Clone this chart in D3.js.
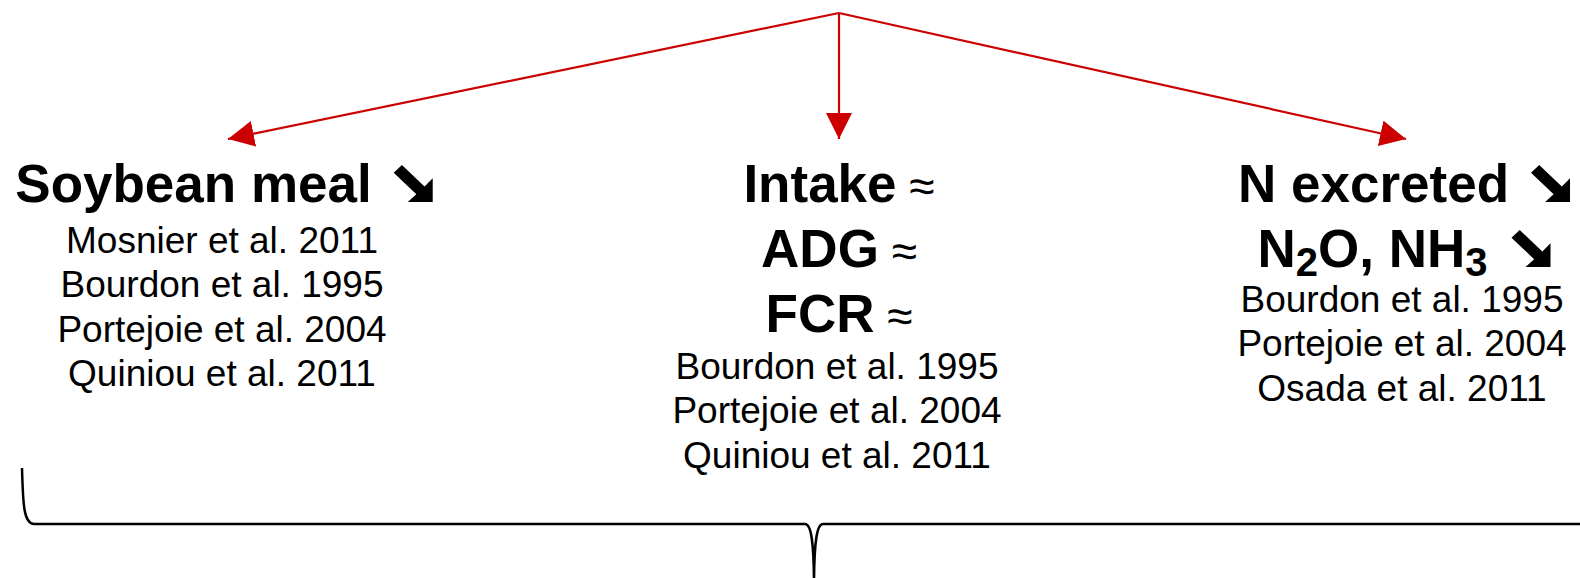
<!DOCTYPE html>
<html>
<head>
<meta charset="utf-8">
<script src="https://cdn.jsdelivr.net/npm/d3@7"></script>
<style>
  body { margin: 0; background: #fff; }
  svg { display: block; }
  .head { font-family: "Liberation Sans", Arial, sans-serif; font-weight: bold; font-size: 53px; fill: #000; }
  .ref { font-family: "Liberation Sans", Arial, sans-serif; font-size: 37px; fill: #000; }
  .sym-same { font-family: "Liberation Sans", Arial, sans-serif; font-weight: normal; font-size: 46px; }
</style>
</head>
<body>
<script>

// columns of the diagram
const columnIds = ['soy', 'perf', 'nitrogen']

// bold headings: each is a list of [text, isSubscript] pieces plus a trend
const soyHeads = [
  { parts: [['Soybean meal', false]], trend: 'down' }
]
const perfHeads = [
  { parts: [['Intake', false]], trend: 'same' },
  { parts: [['ADG', false]], trend: 'same' },
  { parts: [['FCR', false]], trend: 'same' }
]
const nHeads = [
  { parts: [['N excreted', false]], trend: 'down' },
  { parts: [['N', false], ['2', true], ['O, NH', false], ['3', true]], trend: 'down' }
]

// references under each heading
const soyRefs = ['Mosnier et al. 2011', 'Bourdon et al. 1995', 'Portejoie et al. 2004', 'Quiniou et al. 2011']
const perfRefs = ['Bourdon et al. 1995', 'Portejoie et al. 2004', 'Quiniou et al. 2011']
const nRefs = ['Bourdon et al. 1995', 'Portejoie et al. 2004', 'Osada et al. 2011']

const w = 1580
const h = 578

const headTop = 202
const headStep = 65
const refStep = 44.3
const redColor = '#cc0000'

// heavy south-east arrow glyph, drawn in a unit box
const symW = 39
const symH = 37
const symGap = 22
const downArrow = [[0, 0.21], [0.21, 0], [0.79, 0.58], [1, 0.36], [1, 1], [0.36, 1], [0.58, 0.79]]

const colX = d3.scaleOrdinal()
  .domain(columnIds)
  .range([224, 839, 1404])

const columns = [
  { id: 'soy', heads: soyHeads, refs: soyRefs, refTop: 253, refShift: -2 },
  { id: 'perf', heads: perfHeads, refs: perfRefs, refTop: 379, refShift: -2 },
  { id: 'nitrogen', heads: nHeads, refs: nRefs, refTop: 312, refShift: -2 }
]

const svg = d3.select('body')
  .append('svg')
  .attr('width', w)
  .attr('height', h)

const defs = svg.append('defs')
defs.append('marker')
  .attr('id', 'head')
  .attr('viewBox', '0 0 26 26')
  .attr('refX', 26)
  .attr('refY', 13)
  .attr('markerWidth', 26)
  .attr('markerHeight', 26)
  .attr('markerUnits', 'userSpaceOnUse')
  .attr('orient', 'auto')
  .append('path')
  .attr('d', 'M0,0 L26,13 L0,26 Z')
  .attr('fill', redColor)

// red arrows from the apex down to each column
const apex = [839, 13]
const arrowTipY = 139

svg.selectAll('.arrow')
  .data(columnIds)
  .enter()
  .append('line')
  .attr('class', 'arrow')
  .attr('x1', apex[0])
  .attr('y1', apex[1])
  .attr('x2', (d) => colX(d) + (d === 'soy' ? 4 : d === 'nitrogen' ? 2 : 0))
  .attr('y2', arrowTipY)
  .attr('stroke', redColor)
  .attr('stroke-width', 2.2)
  .attr('marker-end', 'url(#head)')

const sx = d3.scaleLinear().domain([0, 1]).range([0, symW])
const sy = d3.scaleLinear().domain([0, 1]).range([-symH, 0])
const arrowLine = d3.line().x((p) => sx(p[0])).y((p) => sy(p[1]))

// column text
const col = svg.selectAll('.col')
  .data(columns)
  .enter()
  .append('g')
  .attr('class', 'col')
  .attr('transform', (d) => `translate(${colX(d.id)},0)`)

col.each(function(c) {
  const g = d3.select(this)

  c.heads.forEach((d, i) => {
    const y = headTop + i * headStep
    const t = g.append('text')
      .attr('class', 'head')
      .attr('y', y)
    let shifted = false
    d.parts.forEach(([txt, sub]) => {
      const span = t.append('tspan').text(txt)
      if (sub) {
        span.attr('dy', 9).style('font-size', '40px')
        shifted = true
      } else if (shifted) {
        span.attr('dy', -9)
        shifted = false
      }
    })
    if (d.trend === 'same') {
      const sym = t.append('tspan')
        .attr('class', 'sym-same')
        .text(' \u2248')
      if (shifted) sym.attr('dy', -9)
      t.attr('text-anchor', 'middle')
    } else {
      const tw = t.node().getComputedTextLength()
      const gap = shifted ? symGap + 2 : symGap
      const total = tw + gap + symW
      const x0 = -total / 2
      t.attr('text-anchor', 'start').attr('x', x0)
      g.append('path')
        .attr('transform', `translate(${x0 + tw + gap},${y})`)
        .attr('d', arrowLine(downArrow) + 'Z')
        .attr('fill', '#000')
    }
  })

  g.selectAll('.ref')
    .data(c.refs)
    .enter()
    .append('text')
    .attr('class', 'ref')
    .attr('text-anchor', 'middle')
    .attr('x', c.refShift)
    .attr('y', (d, i) => c.refTop + i * refStep)
    .text((d) => d)
})

// curly brace at the bottom
const braceY = 524
const braceMid = 814
const braceLeft = [22, 468]

const brace = d3.path()
brace.moveTo(braceLeft[0], braceLeft[1])
brace.bezierCurveTo(23, 500, 23, braceY, 34, braceY)
brace.lineTo(braceMid - 9, braceY)
brace.bezierCurveTo(braceMid - 3, braceY, braceMid, 540, braceMid, h + 10)
brace.moveTo(w + 10, braceY)
brace.lineTo(braceMid + 9, braceY)
brace.bezierCurveTo(braceMid + 3, braceY, braceMid, 540, braceMid, h + 10)

svg.append('path')
  .attr('d', brace.toString())
  .attr('fill', 'none')
  .attr('stroke', '#000')
  .attr('stroke-width', 2.5)

</script>
</body>
</html>
